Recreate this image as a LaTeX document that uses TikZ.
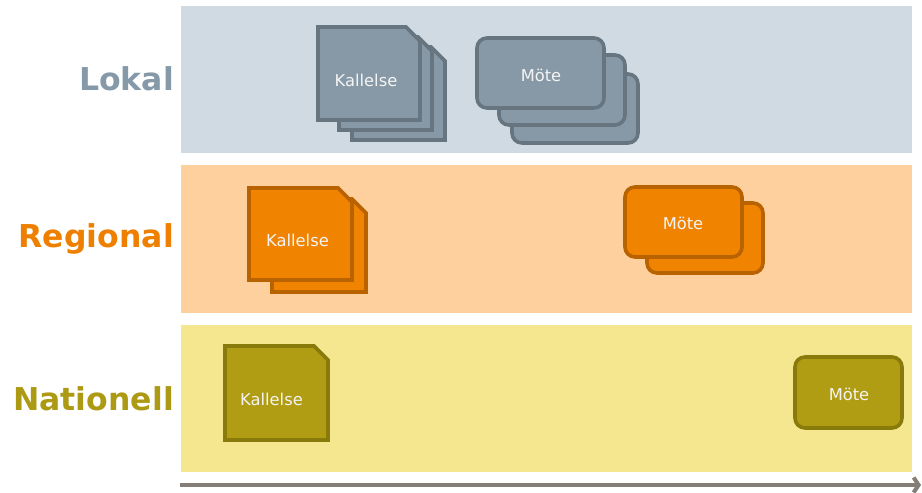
\documentclass[tikz,border=0pt]{standalone}
\usepackage{fontspec}
\setmainfont{DejaVu Sans}
\usetikzlibrary{arrows.meta}

% lane colours
\definecolor{bandL}{HTML}{D0DAE2}
\definecolor{bandR}{HTML}{FDD09E}
\definecolor{bandN}{HTML}{F4E78F}
% label colours
\definecolor{txtL}{HTML}{8599A8}
\definecolor{txtR}{HTML}{EE7F00}
\definecolor{txtN}{HTML}{AD9A14}
% shape fills and outlines
\definecolor{fillL}{HTML}{8799A6}
\definecolor{lineL}{HTML}{66757F}
\definecolor{fillR}{HTML}{F08300}
\definecolor{lineR}{HTML}{B86200}
\definecolor{fillN}{HTML}{B09D14}
\definecolor{lineN}{HTML}{897A0C}
\definecolor{axis}{HTML}{857E76}
\definecolor{inner}{HTML}{F4F4F4}

% a sheet with its top right corner cut off; #1 style, #2,#3 top left, #4 width, #5 height
\newcommand\sheet[5]{%
  \draw[#1] (#2,#3) -- ++({#4-14},0) -- ++(14,14) -- ++(0,{#5-14}) -- ++({-#4},0) -- cycle;}

\tikzset{
  lane/.style={anchor=base east, inner sep=0pt, font=\bfseries\fontsize{31.5}{31.5}\selectfont},
  sheetL/.style={fill=fillL, draw=lineL, line width=3.6pt, line join=miter},
  sheetR/.style={fill=fillR, draw=lineR, line width=3.6pt, line join=miter},
  sheetN/.style={fill=fillN, draw=lineN, line width=3.6pt, line join=miter},
  meet/.style={rectangle, rounded corners=10pt, line width=3.6pt, inner sep=0pt},
  meetL/.style={meet, fill=fillL, draw=lineL},
  meetR/.style={meet, fill=fillR, draw=lineR},
  meetN/.style={meet, fill=fillN, draw=lineN},
  word/.style={inner sep=0pt, text=inner, font=\fontsize{16.3}{16.3}\selectfont},
}

\begin{document}
\begin{tikzpicture}[x=1pt, y=-1pt]
\useasboundingbox (0,0) rectangle (922,493);

% lanes
\fill[bandL] (181,6) rectangle (912,153);
\fill[bandR] (181,165) rectangle (912,313);
\fill[bandN] (181,325) rectangle (912,472);

% lane names
\node[lane, text=txtL] (lokal) at (174,90) {Lokal};
\node[lane, text=txtR] (regional) at (174,247) {Regional};
\node[lane, text=txtN] (nationell) at (174,410) {Nationell};

% Lokal: three notices, three meetings
\sheet{sheetL}{352}{47}{93}{93}
\sheet{sheetL}{339}{37}{93}{93}
\sheet{sheetL}{318}{27}{102}{93}
\node[word] (lkall) at (366,80) {Kallelse};

\node[meetL, minimum width=126pt, minimum height=69pt] (lm3) at (575,108.5) {};
\node[meetL, minimum width=126pt, minimum height=70pt] (lm2) at (562,90) {};
\node[meetL, minimum width=127pt, minimum height=70pt] (lm1) at (540.5,73) {};
\node[word] (lmote) at (541,75) {Möte};

% Regional: two notices, two meetings
\sheet{sheetR}{272}{199}{94}{93}
\sheet{sheetR}{249}{188}{103}{92}
\node[word] (rkall) at (297.5,240) {Kallelse};

\node[meetR, minimum width=116pt, minimum height=70pt] (rm2) at (705,238) {};
\node[meetR, minimum width=117pt, minimum height=70pt] (rm1) at (683.5,222) {};
\node[word] (rmote) at (683,223) {Möte};

% Nationell: one notice, one meeting
\sheet{sheetN}{225}{346}{103}{94}
\node[word] (nkall) at (271.5,399) {Kallelse};

\node[meetN, minimum width=107pt, minimum height=71pt] (nm1) at (848.5,392.5) {};
\node[word] (nmote) at (849,394) {Möte};

% time axis
\coordinate (t0) at (180,485);
\coordinate (t1) at (921,485);
\draw[axis, line width=4pt, -{Straight Barb[length=5pt, width=15pt]}] (t0) -- (t1);
\end{tikzpicture}
\end{document}
